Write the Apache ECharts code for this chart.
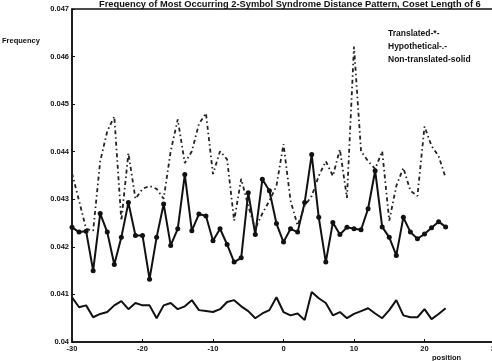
<!DOCTYPE html>
<html lang="en">
<head>
    <meta charset="UTF-8">
    <title>Syndrome distance pattern</title>
    <style>
        html, body { margin: 0; padding: 0; background: #fff; }
        #main { width: 492px; height: 361px; }
    </style>
</head>
<body>
<div id="main"></div>
<script src="https://cdn.jsdelivr.net/npm/echarts@6/dist/echarts.min.js"></script>
<script>
    const positions = [-30, -29, -28, -27, -26, -25, -24, -23, -22, -21, -20, -19, -18, -17, -16, -15, -14, -13,
        -12, -11, -10, -9, -8, -7, -6, -5, -4, -3, -2, -1, 0, 1, 2, 3, 4, 5, 6, 7, 8, 9, 10, 11, 12, 13, 14, 15,
        16, 17, 18, 19, 20, 21, 22, 23];
    // translated: solid with dots
    const translated = [0.04241, 0.04231, 0.04233, 0.04150, 0.04270, 0.04231, 0.04163, 0.04220, 0.04293, 0.04224,
        0.04224, 0.04132, 0.04220, 0.04290, 0.04203, 0.04238, 0.04352, 0.04234, 0.04269, 0.04265,
        0.04213, 0.04238, 0.04205, 0.04168, 0.04177, 0.04314, 0.04226, 0.04342, 0.04318, 0.04249,
        0.04210, 0.04238, 0.04231, 0.04293, 0.04394, 0.04262, 0.04168, 0.04251, 0.04226, 0.04241,
        0.04238, 0.04236, 0.04280, 0.04360, 0.04242, 0.04220, 0.04182, 0.04262, 0.04231, 0.04217,
        0.04227, 0.04240, 0.04253, 0.04242];
    // hypothetical: dash-dot
    const hypothetical = [0.04355, 0.04297, 0.04238, 0.04234, 0.04380, 0.04443, 0.04474, 0.04255, 0.04397, 0.04301,
        0.04322, 0.04328, 0.04322, 0.04301, 0.04401, 0.04468, 0.04376, 0.04401, 0.04458, 0.04481,
        0.04353, 0.04401, 0.04384, 0.04255, 0.04343, 0.04286, 0.04238, 0.04270, 0.04297, 0.04328,
        0.04416, 0.04297, 0.04245, 0.04286, 0.04307, 0.04349, 0.04380, 0.04349, 0.04405, 0.04303,
        0.04621, 0.04401, 0.04380, 0.04364, 0.04401, 0.04255, 0.04328, 0.04366, 0.04318, 0.04307,
        0.04453, 0.04412, 0.04391, 0.04345];
    // non-translated: plain solid
    const nonTranslated = [0.04094, 0.04073, 0.04077, 0.04052, 0.04059, 0.04063, 0.04077, 0.04086, 0.04069, 0.04082,
        0.04077, 0.04077, 0.04050, 0.04077, 0.04082, 0.04069, 0.04075, 0.04088, 0.04067, 0.04065,
        0.04063, 0.04069, 0.04084, 0.04088, 0.04075, 0.04065, 0.04050, 0.04060, 0.04067, 0.04094,
        0.04063, 0.04056, 0.04060, 0.04046, 0.04105, 0.04092, 0.04082, 0.04056, 0.04063, 0.04050,
        0.04059, 0.04065, 0.04071, 0.04060, 0.04050, 0.04067, 0.04088, 0.04056, 0.04052, 0.04052,
        0.04069, 0.04048, 0.04059, 0.04071];
    const legendLabels = ['Translated-*-', 'Hypothetical-.-', 'Non-translated-solid'];

    const titleText = 'Frequency of Most Occurring 2-Symbol Syndrome Distance Pattern, Coset Length of 6';
    const font = '"Liberation Sans", Arial, sans-serif';
    const pair = arr => positions.map((x, i) => [x, arr[i]]);

    const myChart = echarts.init(document.getElementById('main'));
    const option = {
        animation: false,
        backgroundColor: '#fff',
        grid: {
            left: 72, top: 9, right: -3, bottom: 19, containLabel: false, outerBoundsMode: 'none',
            show: true, borderColor: '#111', borderWidth: 1.5
        },
        xAxis: {
            type: 'value',
            min: -30, max: 30, interval: 10,
            axisLine: {onZero: false, lineStyle: {color: '#111', width: 1.5}},
            axisTick: {inside: true, length: 3, lineStyle: {color: '#111'}},
            axisLabel: {fontFamily: font, fontSize: 7.5, fontWeight: 'bold', color: '#111', margin: 3},
            splitLine: {show: false}
        },
        yAxis: {
            type: 'value',
            min: 0.04, max: 0.047, interval: 0.001,
            axisLine: {show: true, onZero: false, lineStyle: {color: '#111', width: 1.5}},
            axisTick: {show: true, inside: true, length: 3, lineStyle: {color: '#111'}},
            axisLabel: {fontFamily: font, fontSize: 7.5, fontWeight: 'bold', color: '#111', margin: 3,
                formatter: v => +v.toFixed(3) + ''},
            splitLine: {show: false}
        },
        graphic: [
            {type: 'text', left: 99, top: 0, z: 100,
                style: {text: titleText, font: 'bold 9.3px ' + font, fill: '#111'}},
            {type: 'text', left: 2, top: 37,
                style: {text: 'Frequency', font: 'bold 7.5px ' + font, fill: '#111'}},
            {type: 'text', left: 432, top: 354,
                style: {text: 'position', font: 'bold 7.5px ' + font, fill: '#111'}}
        ].concat(legendLabels.map((t, i) => ({
            type: 'text', left: 388, top: 29 + i * 13,
            style: {text: t, font: 'bold 8.5px ' + font, fill: '#111'}
        }))),
        series: [
            {
                name: legendLabels[0], type: 'line', data: pair(translated),
                symbol: 'circle', symbolSize: 5,
                itemStyle: {color: '#111'},
                lineStyle: {color: '#111', width: 2}
            },
            {
                name: legendLabels[1], type: 'line', data: pair(hypothetical),
                symbol: 'none',
                lineStyle: {color: '#222', width: 1.8, type: [4, 3, 1.5, 3]}
            },
            {
                name: legendLabels[2], type: 'line', data: pair(nonTranslated),
                symbol: 'none',
                lineStyle: {color: '#111', width: 2}
            }
        ]
    };
    myChart.setOption(option);
</script>
</body>
</html>
